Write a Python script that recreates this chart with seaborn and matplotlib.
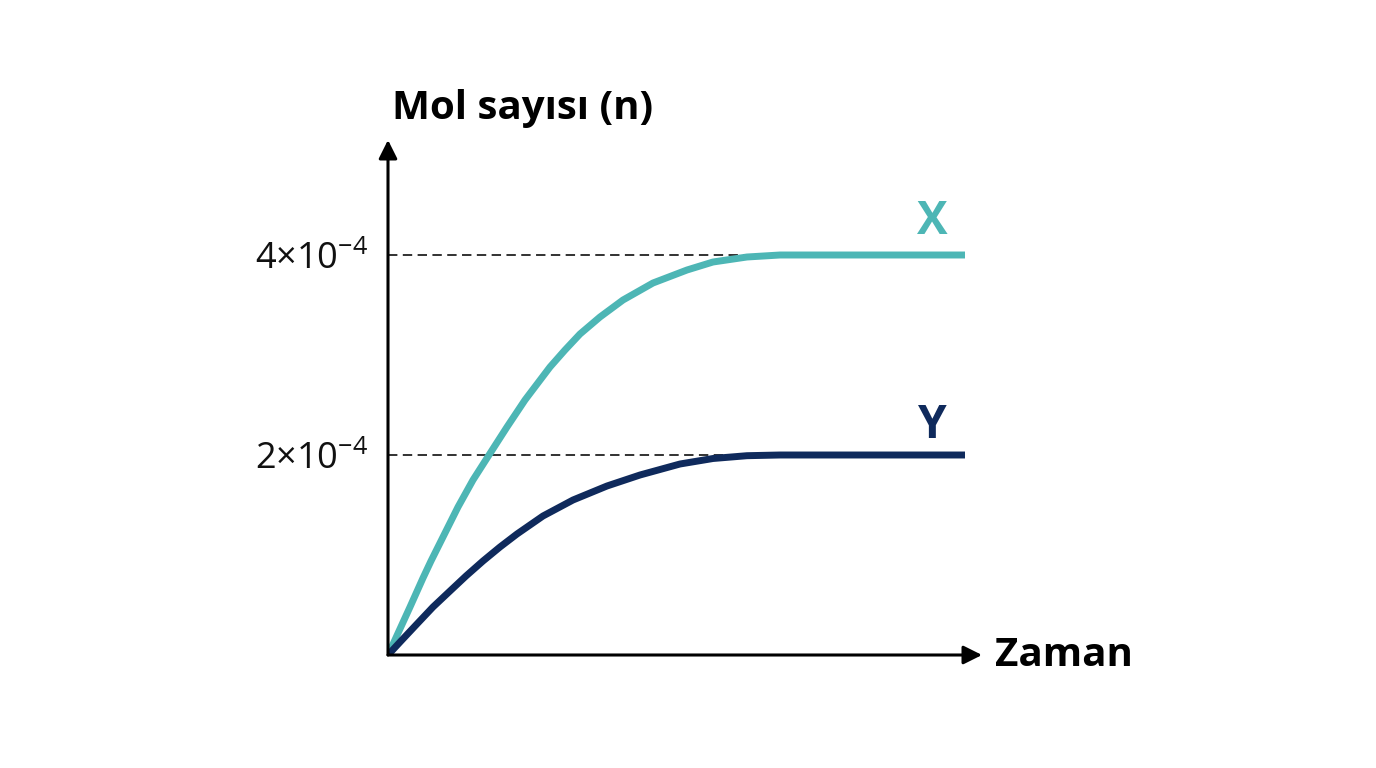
import matplotlib
matplotlib.use("Agg")
import matplotlib.pyplot as plt
import seaborn as sns
import pandas as pd

# ---- data (time in arbitrary units, n in units of 1e-4 mol) ----
x_time = [0, 0.15, 0.55, 0.875, 1.075, 1.30, 1.75, 2.125, 2.525, 2.975,
          3.425, 4.05, 4.425, 4.80, 5.30, 5.875, 6.625, 7.475, 8.125,
          8.975, 9.80, 14.425]
x_vals = [0, 0.13, 0.48, 0.77, 0.94, 1.12, 1.48, 1.75, 2.00, 2.28,
          2.55, 2.88, 3.05, 3.21, 3.38, 3.55, 3.72, 3.85, 3.93,
          3.98, 4.00, 4.00]

y_time = [0, 0.325, 0.70, 1.125, 1.55, 1.95, 2.375, 2.80, 3.225, 3.875,
          4.625, 5.475, 6.30, 7.30, 8.125, 8.975, 9.80, 14.425]
y_vals = [0, 0.14, 0.30, 0.48, 0.64, 0.79, 0.94, 1.08, 1.21, 1.39,
          1.55, 1.69, 1.80, 1.91, 1.965, 1.993, 2.00, 2.00]

series_names = ["X", "Y"]
tick_values = [2, 4]
tick_labels = [r"$\mathregular{2×10^{-4}}$", r"$\mathregular{4×10^{-4}}$"]
plateau_time = 9.8

# ---- styling ----
sns.set_theme(style="white")
plt.rcParams["font.family"] = ["Open Sans", "DejaVu Sans"]
plt.rcParams["mathtext.default"] = "regular"

teal = "#4DB6B5"
navy = "#0F2A5C"

df = pd.concat([
    pd.DataFrame({"Zaman": x_time, "n": x_vals, "madde": series_names[0]}),
    pd.DataFrame({"Zaman": y_time, "n": y_vals, "madde": series_names[1]}),
], ignore_index=True)

fig = plt.figure(figsize=(13.76, 7.68), dpi=100)
ax = fig.add_axes([388 / 1376, (768 - 655) / 768, 594 / 1376, 515 / 768])
ax.set_xlim(0, (982 - 388) / 40)
ax.set_ylim(0, (655 - 140) / 100)

# dashed reference lines
for v in tick_values:
    ax.plot([0, plateau_time], [v, v], color="#222222", linewidth=1.3,
            dashes=(5.2, 3.0), zorder=1)

sns.lineplot(data=df, x="Zaman", y="n", hue="madde", palette=[teal, navy],
             estimator=None, sort=False, linewidth=5.0, legend=False, ax=ax,
             zorder=3)
for ln in ax.lines[len(tick_values):]:
    ln.set_linewidth(5.0)
    ln.set_solid_capstyle("butt")
    ln.set_solid_joinstyle("round")

# axes with arrows
for s in ax.spines.values():
    s.set_visible(False)
ax.annotate("", xy=(1, 0), xytext=(0, 0), xycoords="axes fraction",
            arrowprops=dict(arrowstyle="-|>", lw=2.2, color="black",
                            mutation_scale=28, shrinkA=0, shrinkB=0),
            zorder=5)
ax.annotate("", xy=(0, 1), xytext=(0, 0), xycoords="axes fraction",
            arrowprops=dict(arrowstyle="-|>", lw=2.2, color="black",
                            mutation_scale=28, shrinkA=0, shrinkB=0),
            zorder=5)

ax.set_xticks([])
ax.set_yticks(tick_values)
ax.set_yticklabels(tick_labels, fontsize=26, color="#111111")
ax.tick_params(axis="y", length=0, pad=14)
ax.set_xlabel("")
ax.set_ylabel("")

# series labels
ax.text((932 - 388) / 40, (655 - 222) / 100, series_names[0], color=teal,
        fontsize=33, fontweight="bold", ha="center", va="center")
ax.text((932 - 388) / 40, (655 - 425) / 100, series_names[1], color=navy,
        fontsize=33, fontweight="bold", ha="center", va="center")

# axis titles
fig.text(392 / 1376, (768 - 109) / 768, "Mol sayısı (n)", fontsize=29,
         fontweight="bold", ha="left", va="center", color="black")
ax.text((995 - 388) / 40, 0, "Zaman", fontsize=29, fontweight="bold",
        ha="left", va="center", color="black", clip_on=False)

fig.savefig("out.png", dpi=100)
